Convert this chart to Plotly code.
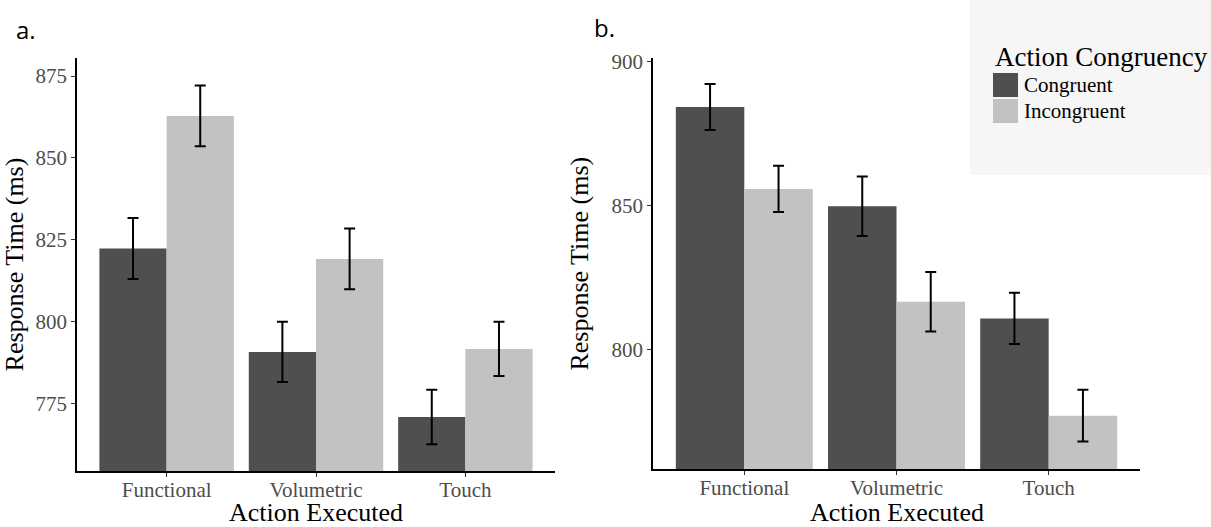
import plotly.graph_objects as go
from plotly.subplots import make_subplots

# ---- data ----
actions = ["Functional", "Volumetric", "Touch"]
groups = ["Congruent", "Incongruent"]

a_congruent = [822.3, 790.7, 770.8]
a_congruent_err = [9.3, 9.2, 8.3]
a_incongruent = [862.8, 819.1, 791.6]
a_incongruent_err = [9.3, 9.3, 8.3]

b_congruent = [884.2, 849.8, 810.9]
b_congruent_err = [8.0, 10.3, 8.9]
b_incongruent = [855.8, 816.7, 777.2]
b_incongruent_err = [8.0, 10.3, 9.0]

a_ticks = [775, 800, 825, 850, 875]
b_ticks = [800, 850, 900]

colors = ["#4F4F4F", "#C2C2C2"]
SERIF = "Liberation Serif"
W, H = 1211, 527

fig = make_subplots(rows=1, cols=2)

panels = [
    (1, [a_congruent, a_incongruent], [a_congruent_err, a_incongruent_err]),
    (2, [b_congruent, b_incongruent], [b_congruent_err, b_incongruent_err]),
]
for col, vals, errs in panels:
    for g, v, e, c in zip(groups, vals, errs, colors):
        fig.add_trace(go.Bar(
            x=actions, y=v, name=g, marker=dict(color=c, line=dict(width=0)),
            error_y=dict(type="data", array=e, visible=True, color="black",
                         thickness=2, width=5.5),
            showlegend=False, legendgroup=g,
        ), row=1, col=col)

fig.update_layout(
    width=W, height=H,
    margin=dict(l=0, r=0, t=0, b=0, autoexpand=False),
    paper_bgcolor="white", plot_bgcolor="rgba(0,0,0,0)",
    barmode="group", bargap=0.1, bargroupgap=0,
    font=dict(family=SERIF, color="black"),
)

axis_common = dict(
    showgrid=False, zeroline=False, showline=True, linecolor="black", linewidth=1.5,
    ticks="outside", ticklen=4, tickwidth=1.2, tickcolor="#333333", automargin=False,
    tickfont=dict(family=SERIF, size=21, color="#4D4D4D"),
)

fig.update_xaxes(**axis_common, range=[-0.6, 2.6], ticklabelstandoff=-5)
fig.update_yaxes(**axis_common,
                 title=dict(text="Response Time (ms)", font=dict(family=SERIF, size=26, color="black")))

fig.update_layout(
    xaxis=dict(domain=[77 / W, 555 / W]),
    xaxis2=dict(domain=[653 / W, 1140 / W]),
    yaxis=dict(domain=[(H - 471) / H, (H - 58) / H], range=[754.3, 880.5], tickvals=a_ticks),
    yaxis2=dict(domain=[(H - 469.3) / H, (H - 58) / H], range=[758.6, 901.2], tickvals=b_ticks),
)

def px(x, y):
    return x / W, 1 - y / H

# legend background and custom legend
shapes = [dict(type="rect", xref="paper", yref="paper", x0=970 / W, x1=1, y0=1 - 175 / H, y1=1,
               fillcolor="#F6F6F6", line=dict(width=0), layer="below")]
annotations = []
# x-axis titles
for cx in (316, 897):
    x, y = px(cx, 512)
    annotations.append(dict(text="Action Executed", x=x, y=y, xref="paper", yref="paper",
                            xanchor="center", yanchor="middle", showarrow=False,
                            font=dict(family=SERIF, size=26, color="black")))
x, y = px(993, 57)
annotations.append(dict(text="Action Congruency", x=x, y=y, xref="paper", yref="paper",
                        xanchor="left", yanchor="middle", showarrow=False,
                        font=dict(family=SERIF, size=27, color="black")))
for i, (g, c) in enumerate(zip(groups, colors)):
    top = 73 + i * 26
    shapes.append(dict(type="rect", xref="paper", yref="paper",
                       x0=993 / W, x1=1018 / W, y0=1 - (top + 24) / H, y1=1 - top / H,
                       fillcolor=c, line=dict(width=0)))
    x, y = px(1022, top + 12)
    annotations.append(dict(text=g, x=x, y=y, xref="paper", yref="paper",
                            xanchor="left", yanchor="middle", showarrow=False,
                            font=dict(family=SERIF, size=21, color="black")))

for lab, lx, ly in (("a.", 14, 29), ("b.", 592, 27)):
    x, y = px(lx, ly)
    annotations.append(dict(text=lab, x=x, y=y, xref="paper", yref="paper", xanchor="left",
                            yanchor="middle", showarrow=False,
                            font=dict(family="Open Sans", size=24, color="black")))
fig.update_layout(shapes=shapes, annotations=annotations)

fig.write_html("out.html", config={"displayModeBar": False},
               post_script="document.body.style.margin='0';document.body.style.overflow='hidden';")
